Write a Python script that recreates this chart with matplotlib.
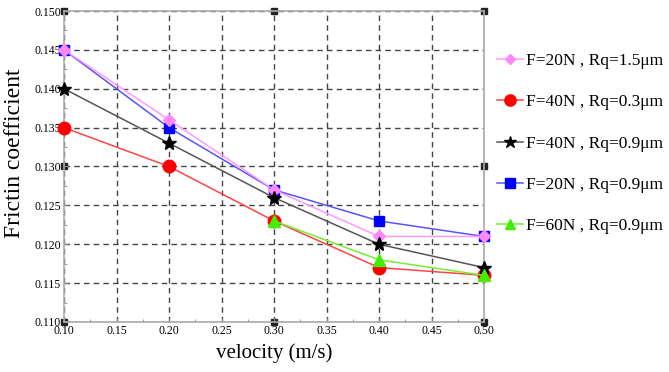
import numpy as np
import matplotlib
matplotlib.use("Agg")
import matplotlib.pyplot as plt
from matplotlib.lines import Line2D

velocity = [0.10, 0.20, 0.30, 0.40, 0.50]
f20_rq15 = [0.145, 0.136, 0.127, 0.121, 0.121]
f40_rq03 = [0.135, 0.130, 0.123, 0.117, 0.116]
f40_rq09 = [0.140, 0.133, 0.126, 0.120, 0.117]
f20_rq09 = [0.145, 0.135, 0.127, 0.123, 0.121]
f60_rq09 = [np.nan, np.nan, 0.123, 0.118, 0.116]
labels = ["F=20N , Rq=1.5\u03bcm", "F=40N , Rq=0.3\u03bcm", "F=40N , Rq=0.9\u03bcm",
          "F=20N , Rq=0.9\u03bcm", "F=60N , Rq=0.9\u03bcm"]
xticks = [0.10, 0.15, 0.20, 0.25, 0.30, 0.35, 0.40, 0.45, 0.50]
yticks = [0.110, 0.115, 0.120, 0.125, 0.130, 0.135, 0.140, 0.145, 0.150]

plt.rcParams['font.family'] = ['Liberation Serif', 'DejaVu Serif']

fig = plt.figure(figsize=(6.69, 3.72), dpi=100)
ax = fig.add_axes([64/669, 1-322/372, 420/669, 311/372])

series = [
    (f20_rq15, '#ff88ff', 'D', 6, 3),
    (f40_rq03, '#ff0000', 'o', 9, 4),
    (f40_rq09, '#000000', '*', 10, 5),
    (f20_rq09, '#0000ff', 's', 7.5, 2),
    (f60_rq09, '#44ee00', '^', 8, 6),
]
line_colors = ['#ff99ff', '#ff4444', '#555555', '#5555ff', '#77ee33']
handles = []
for (vals, c, m, ms, z), lc, lab in zip(series, line_colors, labels):
    ax.plot(velocity, vals, color=lc, lw=1.1, zorder=z, clip_on=False)
    ax.plot(velocity, vals, ls='none', marker=m, ms=ms, color=c, mec=c, zorder=z + 0.5, clip_on=False)
    handles.append(Line2D([], [], color=lc, lw=1.1, marker=m, ms=ms*0.9, mfc=c, mec=c, label=lab))

# small anchor squares on the frame (Origin style)
ax_x = [xticks[0], xticks[4], xticks[-1]]
ax_y = [yticks[0], yticks[4], yticks[-1]]
for xx in ax_x:
    for yy in ax_y:
        if xx == ax_x[1] and yy == ax_y[1]:
            continue
        ax.plot([xx], [yy], marker='s', ms=4, mfc='#222222', mec='#222222',
                zorder=1.5, clip_on=False)

ax.set_xlim(0.10, 0.50)
ax.set_ylim(0.110, 0.150)
ax.set_xticks(xticks)
ax.set_yticks(yticks)
ax.set_xticklabels([f"{v:.2f}" for v in xticks])
ax.set_yticklabels([f"{v:.3f}" for v in yticks])
ax.set_xticks(np.arange(0.125, 0.5, 0.05), minor=True)
ax.set_yticks(np.arange(0.1125, 0.15, 0.005), minor=True)
ax.tick_params(axis='both', which='major', direction='in', length=3, labelsize=8.5, color='#888888', pad=2)
ax.tick_params(axis='both', which='minor', direction='in', length=2, color='#888888')
ax.grid(True, which='major', ls=(0, (4, 3)), color='#444444', lw=1.0)
for s in ax.spines.values():
    s.set_color('#aaaaaa')
    s.set_linewidth(1.2)

ax.set_xlabel("velocity (m/s)", fontsize=15, labelpad=5)
ax.set_ylabel("Frictin coefficient", fontsize=17)
ax.yaxis.set_label_coords(-0.094, 0.543)

fig.legend(handles=handles, loc='upper left', bbox_to_anchor=(490/669, 1-46/372),
           frameon=False, fontsize=12.5, handlelength=1.5, handletextpad=0.15,
           labelspacing=1.45, borderaxespad=0)

fig.savefig("out.png", dpi=100)
